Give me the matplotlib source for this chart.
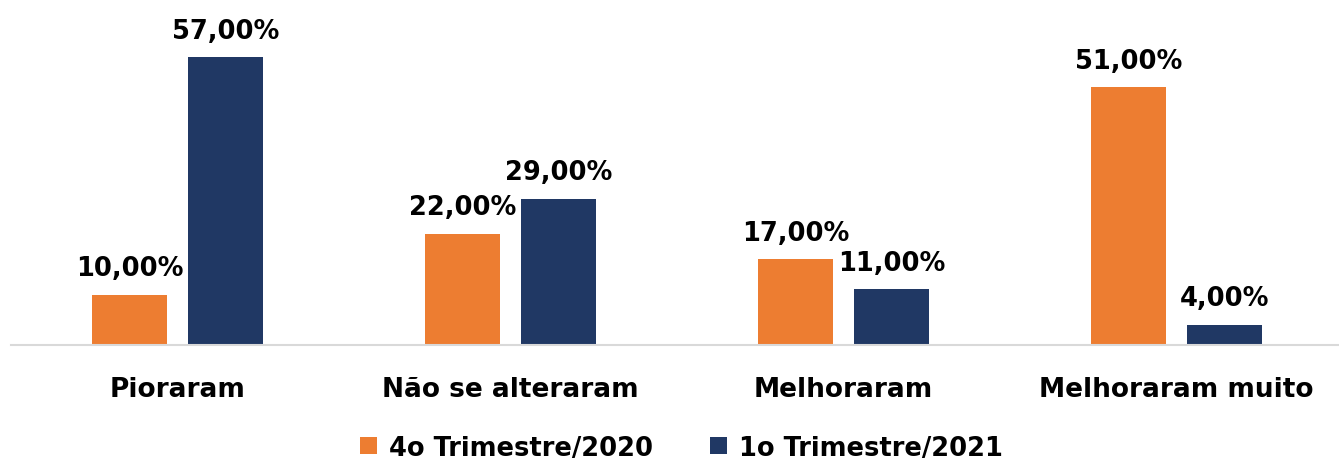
import matplotlib.pyplot as plt
import numpy as np

categorias = ["Pioraram", "Não se alteraram", "Melhoraram", "Melhoraram muito"]
series = ["4o Trimestre/2020", "1o Trimestre/2021"]
tri_2020 = [10, 22, 17, 51]
tri_2021 = [57, 29, 11, 4]
cores = ["#ED7D31", "#203864"]

plt.rcParams['font.family'] = ['DejaVu Sans']

fig = plt.figure(figsize=(13.39, 4.64), dpi=100)
ax = fig.add_axes([11 / 1339, 118 / 464, 1332 / 1339, 303 / 464])

x = np.arange(len(categorias))
w = 0.225
off = 0.144
b1 = ax.bar(x - off, tri_2020, w, color=cores[0], label=series[0])
b2 = ax.bar(x + off, tri_2021, w, color=cores[1], label=series[1])

for bars, vals in ((b1, tri_2020), (b2, tri_2021)):
    for r, v in zip(bars, vals):
        ax.text(r.get_x() + r.get_width() / 2, v + 2.7, ("%.2f%%" % v).replace(".", ","),
                ha='center', va='bottom', fontsize=18.5, fontweight='bold', color='black')

ax.set_xlim(-0.5, 3.5)
ax.set_ylim(0, 60)
ax.set_yticks([])
ax.set_xticks(x)
ax.set_xticklabels(categorias, fontsize=19, fontweight='bold')
ax.tick_params(axis='x', length=0, pad=22)
for s in ['top', 'right', 'left']:
    ax.spines[s].set_visible(False)
ax.spines['bottom'].set_color('#D9D9D9')
ax.spines['bottom'].set_linewidth(1.5)

fig.legend(loc='lower center', bbox_to_anchor=(0.509, -0.045), ncol=2, frameon=False,
           prop={'size': 18.5, 'weight': 'bold'}, handlelength=0.65, handleheight=0.65,
           handletextpad=0.5, columnspacing=2.2)

fig.savefig("out.png", dpi=100)
